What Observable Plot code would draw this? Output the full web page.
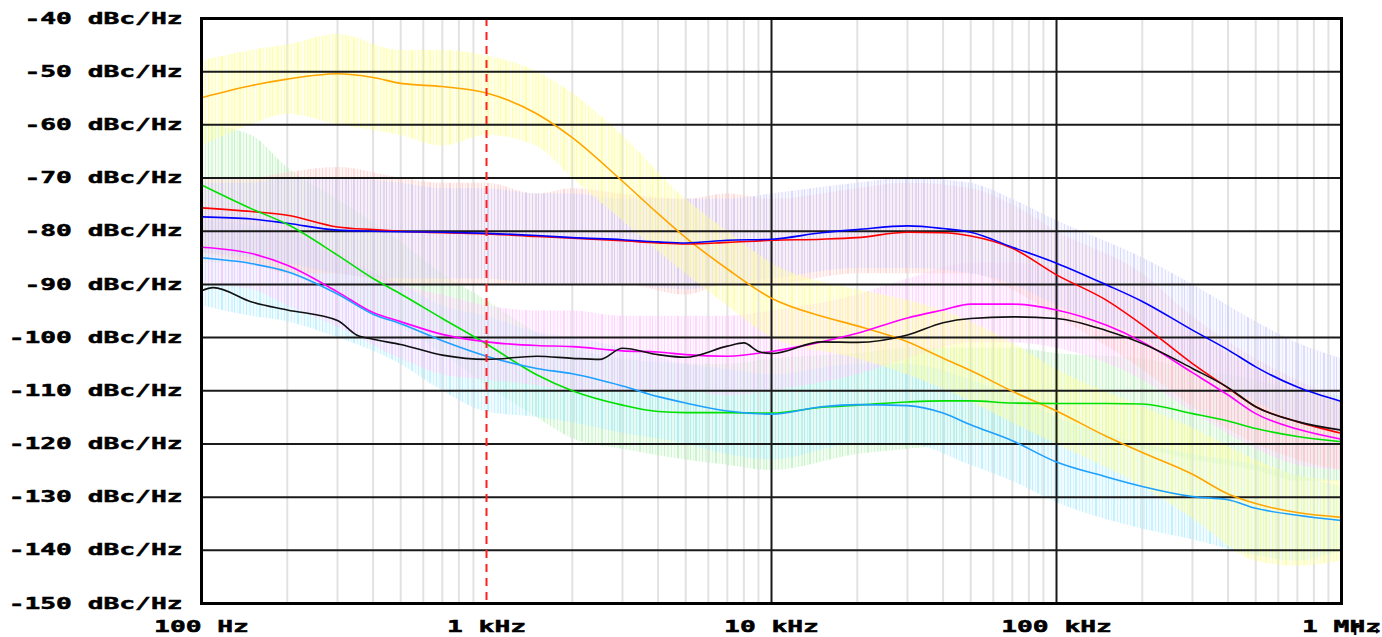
<!DOCTYPE html>
<html><head><meta charset="utf-8">
<script src="https://cdn.jsdelivr.net/npm/d3@7"></script>
<script src="https://cdn.jsdelivr.net/npm/@observablehq/plot@0.6"></script>
<style>body{margin:0;background:#fff}</style>
</head><body><div id="chart"></div>
<script>
// ---- tick labels ----
const yTicks = [-40,-50,-60,-70,-80,-90,-100,-110,-120,-130,-140,-150];
const yTickLabels = ["-40 dBc/Hz","-50 dBc/Hz","-60 dBc/Hz","-70 dBc/Hz","-80 dBc/Hz","-90 dBc/Hz","-100 dBc/Hz","-110 dBc/Hz","-120 dBc/Hz","-130 dBc/Hz","-140 dBc/Hz","-150 dBc/Hz"];
const xTicks = [100,1000,10000,100000,1000000];
const xTickLabels = ["100 Hz","1 kHz","10 kHz","100 kHz","1 MHz"];
const majorGrid = [10000,100000];
const minorTicks = [200,300,400,500,600,700,800,900,2000,3000,4000,5000,6000,7000,8000,9000,20000,30000,40000,50000,60000,70000,80000,90000,200000,300000,400000,500000,600000,700000,800000,900000];
const markerFreq = 1000;

// ---- smoothed traces (Hz, dBc/Hz) ----
const freqs = [100,150,200,300,400,500,700,1000,1500,2000,3000,4000,5000,7000,10000,15000,20000,30000,40000,50000,70000,100000,150000,200000,300000,400000,500000,700000,1000000];
const orange  = [-54.9,-52.6,-51.4,-50.4,-51.1,-52.2,-52.8,-54.0,-57.9,-62.4,-70.6,-76.7,-81.2,-87.1,-92.6,-96.0,-97.8,-100.8,-103.9,-106.2,-110.1,-113.8,-118.6,-121.6,-125.7,-129.4,-131.2,-132.9,-133.8];
const red     = [-75.6,-76.3,-77.0,-79.2,-79.7,-80.0,-80.3,-80.5,-81.0,-81.3,-81.8,-82.2,-82.4,-82.1,-81.7,-81.5,-81.2,-80.2,-80.3,-80.9,-83.2,-88.2,-93.0,-97.6,-104.9,-109.5,-113.0,-115.8,-118.0];
const blue    = [-77.3,-77.7,-78.5,-79.8,-80.0,-80.1,-80.2,-80.4,-80.8,-81.2,-81.6,-82.0,-82.2,-81.7,-81.5,-80.3,-79.7,-79.0,-79.5,-80.2,-83.0,-86.0,-90.1,-93.2,-98.6,-102.3,-105.5,-109.3,-112.0];
const green   = [-71.3,-75.8,-78.7,-84.5,-88.9,-91.8,-96.4,-101.2,-107.0,-110.0,-112.7,-113.9,-114.1,-114.1,-114.2,-113.1,-112.7,-112.1,-111.9,-111.9,-112.3,-112.4,-112.4,-112.5,-114.3,-115.7,-117.1,-118.6,-119.6];
const magenta = [-83.0,-84.2,-86.4,-91.4,-95.3,-97.0,-99.4,-100.8,-101.5,-101.7,-102.5,-102.7,-103.2,-103.5,-102.6,-100.8,-99.2,-96.3,-94.8,-93.7,-93.7,-94.8,-97.7,-100.8,-106.6,-110.8,-114.3,-117.2,-119.1];
const sky     = [-85.0,-86.1,-87.6,-91.8,-95.6,-97.4,-100.6,-103.5,-105.8,-106.8,-109.1,-111.1,-112.3,-113.8,-114.4,-113.0,-112.6,-112.8,-114.2,-116.4,-119.4,-123.4,-126.2,-128.0,-129.9,-130.5,-132.1,-133.4,-134.4];
const blackFreqs = [100,110,150,200,300,350,400,500,700,1000,1500,2000,2500,3000,4000,5000,7000,8000,9000,10000,15000,20000,30000,40000,50000,70000,100000,150000,200000,300000,400000,500000,700000,1000000];
const black   = [-91.2,-90.6,-93.3,-94.8,-96.8,-99.5,-100.3,-101.3,-103.3,-104.1,-103.5,-103.9,-104.1,-102.0,-103.2,-103.7,-101.6,-101.0,-102.6,-103.0,-100.8,-100.9,-99.5,-97.2,-96.4,-96.1,-96.4,-98.7,-101.1,-105.8,-109.4,-113.0,-115.8,-117.4];

// ---- raw-trace spread (upper / lower extent of the faint noisy traces) ----
const noiseFreqs = [100,150,200,300,500,700,1000,1500,2000,3000,5000,7000,10000,20000,30000,50000,70000,100000,200000,300000,500000,700000,1000000];
const orangeHi  = [-48,-46,-45,-43,-46,-46,-47,-50,-54,-62,-74,-80,-86,-91,-93,-97,-101,-106,-113,-117,-123,-126,-127];
const orangeLo  = [-64,-60,-58,-60,-62,-64,-62,-64,-70,-78,-88,-94,-100,-104,-107,-112,-116,-120,-128,-134,-142,-143,-142];
const redHi     = [-70,-70,-69,-68,-70,-71,-71,-73,-72,-73,-74,-73,-74,-72,-71,-72,-75,-80,-88,-96,-104,-108,-112];
const redLo     = [-84,-86,-88,-88,-90,-90,-90,-90,-90,-90,-92,-90,-90,-88,-88,-88,-91,-96,-106,-113,-120,-123,-125];
const blueHi    = [-71,-71,-70,-70,-71,-72,-72,-73,-73,-74,-74,-74,-73,-71,-70,-71,-74,-78,-85,-90,-97,-101,-104];
const blueLo    = [-84,-85,-86,-88,-89,-89,-89,-90,-90,-90,-91,-90,-89,-87,-87,-88,-90,-94,-100,-106,-112,-116,-118];
const greenHi   = [-60,-62,-68,-74,-82,-88,-93,-99,-102,-104,-105,-105,-104,-103,-102,-102,-102,-103,-104,-106,-108,-110,-111];
const greenLo   = [-86,-86,-88,-92,-98,-103,-109,-115,-119,-121,-123,-124,-125,-122,-121,-120,-120,-120,-121,-123,-125,-127,-127];
const magentaHi = [-76,-77,-79,-84,-90,-92,-94,-95,-95,-96,-96,-96,-95,-92,-89,-86,-86,-87,-93,-99,-106,-110,-112];
const magentaLo = [-90,-91,-94,-98,-104,-107,-108,-109,-110,-110,-110,-111,-110,-107,-104,-101,-101,-102,-108,-114,-121,-124,-125];
const skyHi     = [-78,-79,-80,-85,-90,-94,-96,-99,-100,-102,-105,-106,-107,-105,-105,-108,-111,-115,-120,-122,-124,-126,-128];
const skyLo     = [-94,-96,-97,-100,-105,-110,-114,-115,-116,-118,-120,-122,-123,-120,-120,-124,-127,-131,-136,-138,-141,-142,-140];

const rows = (fs, vs) => fs.map((f, i) => ({f, v: vs[i]}));
const band = (hi, lo) => noiseFreqs.map((f, i) => ({f, hi: hi[i], lo: lo[i]}));

const series = [
  {v: orange,  c: "#ffa500"},
  {v: red,     c: "#ff0000"},
  {v: blue,    c: "#0000ff"},
  {v: green,   c: "#00e000"},
  {v: magenta, c: "#ff00ff"},
  {v: sky,     c: "#1ea0ff"}
];
const bands = [
  {hi: greenHi,   lo: greenLo,   c: "#b4f0b4"},
  {hi: skyHi,     lo: skyLo,     c: "#a8ecff"},
  {hi: magentaHi, lo: magentaLo, c: "#ffc4ff"},
  {hi: redHi,     lo: redLo,     c: "#ffc4c4"},
  {hi: blueHi,    lo: blueLo,    c: "#ccccff"},
  {hi: orangeHi,  lo: orangeLo,  c: "#ffff88"}
];

const xLab = new Map(xTicks.map((t, i) => [t, xTickLabels[i]]));
const yLab = new Map(yTicks.map((t, i) => [t, yTickLabels[i]]));

const chart = Plot.plot({
  width: 1382, height: 637,
  marginLeft: 201, marginRight: 41, marginTop: 18, marginBottom: 34,
  style: {fontFamily: "'DejaVu Sans Mono', monospace", fontSize: "16px", fontWeight: "bold", color: "#000", background: "#fff", overflow: "visible"},
  x: {type: "log", domain: [100, 1000000]},
  y: {domain: [-150, -40]},
  marks: [
    Plot.ruleX(minorTicks, {stroke: "#e2e2e2", strokeWidth: 2}),
    ...bands.map(b => Plot.areaY(band(b.hi, b.lo), {x: "f", y1: "lo", y2: "hi", fill: b.c, fillOpacity: 0.75, curve: "monotone-x"})),
    Plot.ruleY(yTicks, {stroke: "#1a1a1a", strokeWidth: 2}),
    Plot.ruleX(majorGrid, {stroke: "#1a1a1a", strokeWidth: 2}),
    ...series.map(s => Plot.line(rows(freqs, s.v), {x: "f", y: "v", stroke: s.c, strokeWidth: 1.6, curve: "monotone-x"})),
    Plot.line(rows(blackFreqs, black), {x: "f", y: "v", stroke: "#111", strokeWidth: 1.6, curve: "monotone-x"}),
    Plot.ruleX([markerFreq], {stroke: "#ff2020", strokeWidth: 2, strokeDasharray: "8,6"}),
    Plot.axisY(yTicks, {tickSize: 0, tickPadding: 19, tickFormat: d => yLab.get(d), fontSize: 16, fontWeight: "bold"}),
    Plot.axisX(xTicks, {tickSize: 0, tickPadding: 17, tickFormat: d => xLab.get(d), fontSize: 16, fontWeight: "bold"}),
    Plot.frame({stroke: "#000", strokeWidth: 3})
  ]
});

// streaky texture for the faint raw traces
const NS = "http://www.w3.org/2000/svg";
const defs = document.createElementNS(NS, "defs");
const stripes = [[0,1,0.9],[3,2,0.6],[6,1,1],[9,1,0.5],[11,2,0.85],[15,1,0.7],[18,1,1],[21,2,0.55],[25,1,0.8],[28,1,0.6],[31,2,0.95],[35,1,0.5]];
let pat = `<pattern id="streaks" patternUnits="userSpaceOnUse" width="38" height="8"><rect width="38" height="8" fill="#fff" fill-opacity="0.2"/>`;
for (const [x, w, o] of stripes) pat += `<rect x="${x}" width="${w}" height="8" fill="#fff" fill-opacity="${o}"/>`;
pat += `</pattern><mask id="streakMask" maskUnits="userSpaceOnUse" x="0" y="0" width="1382" height="637"><rect width="1382" height="637" fill="url(#streaks)"/></mask>`;
defs.innerHTML = pat;
chart.insertBefore(defs, chart.firstChild);
chart.querySelectorAll('g[aria-label="area"]').forEach(g => g.setAttribute("mask", "url(#streakMask)"));

chart.querySelectorAll('g[aria-label="y-axis tick label"] text, g[aria-label="x-axis tick label"] text').forEach(t => {
  const n = t.textContent.length;
  t.setAttribute("textLength", (n * 15.8).toFixed(1));
  t.setAttribute("lengthAdjust", "spacingAndGlyphs");
  t.setAttribute("stroke", "#000");
  t.setAttribute("stroke-width", "0.5");
});
document.getElementById("chart").appendChild(chart);
</script>
</body></html>
